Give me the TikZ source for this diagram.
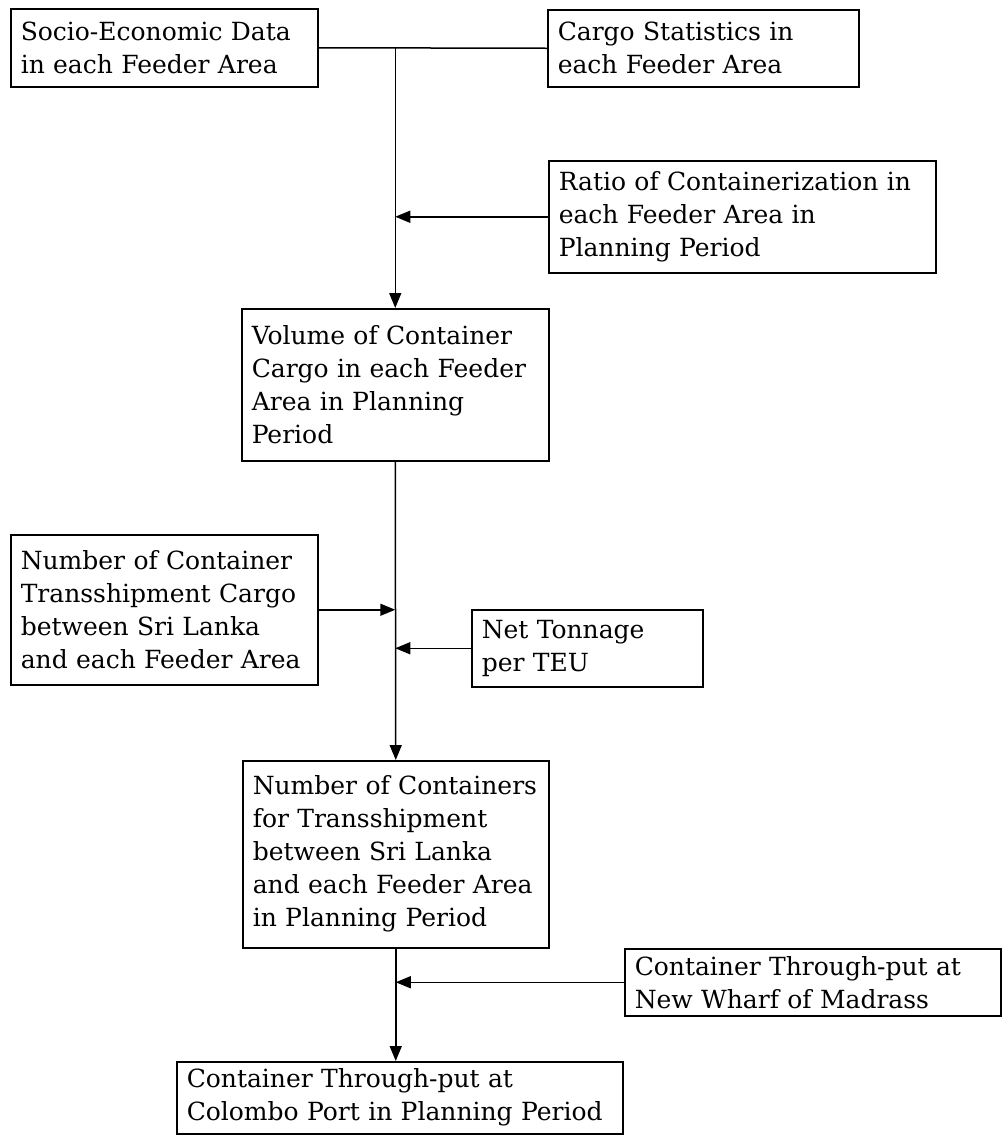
\documentclass[tikz,border=0pt]{standalone}
\usepackage{fontspec}
\setmainfont{DejaVu Serif}
\usetikzlibrary{arrows.meta}
\tikzset{
  box/.style={draw, line width=1.5pt, rectangle, anchor=north west, align=left,
    inner xsep=10pt, inner ysep=0pt, font=\fontsize{25}{33}\selectfont},
  wire/.style={line width=1.5pt},
  arr/.style={line width=1.5pt, -{Triangle[length=15pt,width=12pt]}}
}
\begin{document}
\begin{tikzpicture}[x=1pt,y=-1pt]
\useasboundingbox (0,0) rectangle (1004,1136);
\node[box, text width=287pt, minimum height=78pt] (soc) at (10,8) {Socio-Economic Data\\in each Feeder Area};
\node[box, text width=291pt, minimum height=77pt] (cargo) at (547,9) {Cargo Statistics in\\each Feeder Area};
\node[box, text width=367pt, minimum height=112pt] (ratio) at (548,160) {Ratio of Containerization in\\each Feeder Area in\\Planning Period};
\node[box, text width=287pt, minimum height=152pt] (vol) at (241,308) {Volume of Container\\Cargo in each Feeder\\Area in Planning\\Period};
\node[box, text width=287pt, minimum height=150pt] (ntc) at (10,534) {Number of Container\\Transshipment Cargo\\between Sri Lanka\\and each Feeder Area};
\node[box, text width=211pt, minimum height=77pt] (net) at (471,609) {Net Tonnage\\per TEU};
\node[box, text width=286pt, minimum height=187pt] (noc) at (242,760) {Number of Containers\\for Transshipment\\between Sri Lanka\\and each Feeder Area\\in Planning Period};
\node[box, text width=356pt, minimum height=67pt] (mad) at (624,948) {Container Through-put at\\New Wharf of Madrass};
\node[box, text width=426pt, minimum height=72pt] (col) at (176,1061) {Container Through-put at\\Colombo Port in Planning Period};
\coordinate (j) at (vol.north |- soc.east);
\draw[wire] (soc.east) -- (cargo.west);
\draw[arr] (j) -- (vol.north);
\draw[arr] (ratio.west) -- (ratio.west -| vol.north);
\draw[arr] (vol.south) -- (noc.north);
\draw[arr] (ntc.east) -- (ntc.east -| vol.south);
\draw[arr] (net.west) -- (net.west -| vol.south);
\draw[arr] (noc.south) -- (noc.south |- col.north);
\draw[arr] (mad.west) -- (mad.west -| noc.south);
\end{tikzpicture}
\end{document}
